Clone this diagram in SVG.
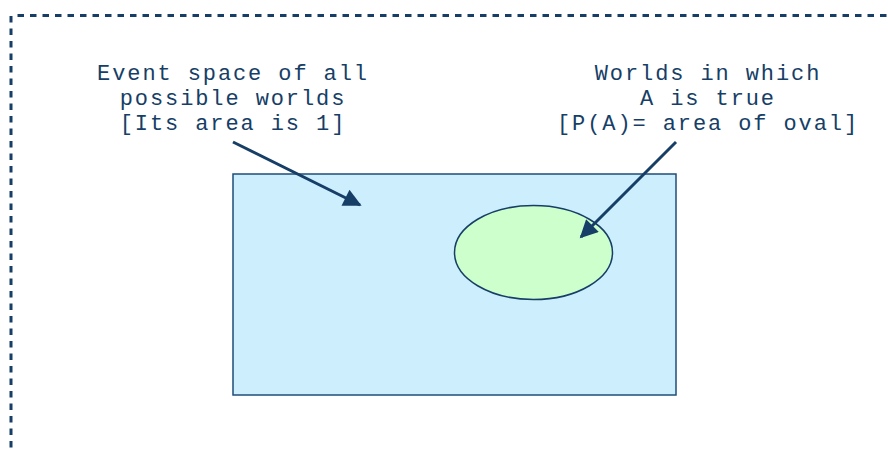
<svg xmlns="http://www.w3.org/2000/svg" width="888" height="450" viewBox="0 0 888 450">
<defs>
<style>
.lbl{font-family:"Liberation Mono","Courier New",monospace;font-size:22px;letter-spacing:1.9px;fill:#163e66;text-anchor:middle}
.conn{stroke:#163e66;stroke-width:3;fill:none}
.frame{fill:none;stroke:#163e66;stroke-width:3;stroke-dasharray:6.5,6}
</style>
<marker id="ah" viewBox="0 0 10 10" refX="9" refY="5" markerWidth="7" markerHeight="6" markerUnits="strokeWidth" orient="auto">
<path d="M0,0 L10,5 L0,10 Z" fill="#163e66"/>
</marker>
</defs>
<rect width="888" height="450" fill="#ffffff"/>
<line class="frame" x1="11" y1="16" x2="11" y2="460"/>
<line class="frame" x1="17.5" y1="15.5" x2="900" y2="15.5"/>
<g id="space">
<rect x="233" y="174" width="443" height="221" fill="#cdeefd" stroke="#1f4e79" stroke-width="1.5"/>
</g>
<g id="oval">
<ellipse cx="533.5" cy="252.5" rx="79" ry="47" fill="#ccffcc" stroke="#163e66" stroke-width="1.5"/>
</g>
<g id="label-space">
<text class="lbl" x="233" y="80">Event space of all</text>
<text class="lbl" x="233" y="105">possible worlds</text>
<text class="lbl" x="233" y="130">[Its area is 1]</text>
</g>
<g id="label-oval">
<text class="lbl" x="708" y="80">Worlds in which</text>
<text class="lbl" x="708" y="105">A is true</text>
<text class="lbl" x="708" y="130">[P(A)= area of oval]</text>
</g>
<g id="connectors">
<line class="conn" x1="233" y1="142" x2="360" y2="205" marker-end="url(#ah)"/>
<line class="conn" x1="676" y1="142" x2="581" y2="237" marker-end="url(#ah)"/>
</g>
</svg>
